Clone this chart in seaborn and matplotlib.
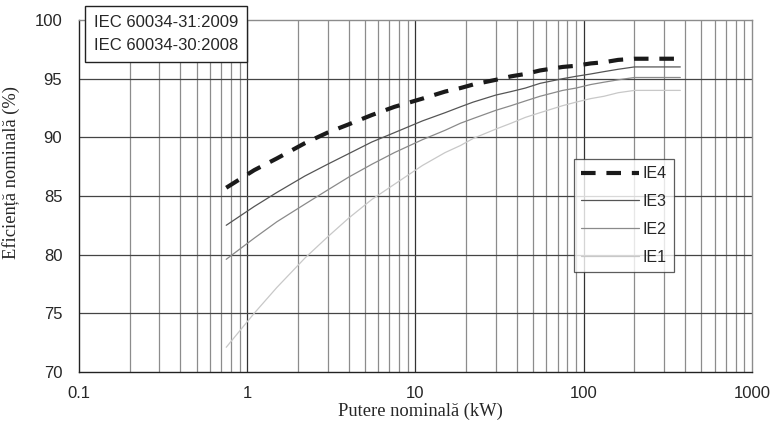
import numpy as np
import pandas as pd
import matplotlib
matplotlib.use('Agg')
import matplotlib.pyplot as plt
import seaborn as sns
from matplotlib.ticker import FixedLocator, MultipleLocator, NullFormatter

# puteri nominale (kW)
putere = [0.75, 1.1, 1.5, 2.2, 3, 4, 5.5, 7.5, 11, 15, 18.5, 22, 30, 37, 45,
          55, 75, 90, 110, 132, 160, 200, 250, 315, 355, 375]

ie4 = [85.7, 87.2, 88.2, 89.5, 90.4, 91.1, 91.9, 92.6, 93.3, 93.9, 94.2, 94.5, 94.9, 95.2, 95.4,
       95.7, 96.0, 96.1, 96.3, 96.4, 96.6, 96.7, 96.7, 96.7, 96.7, 96.7]
ie3 = [82.5, 84.1, 85.3, 86.7, 87.7, 88.6, 89.6, 90.4, 91.4, 92.1, 92.6, 93.0, 93.6, 93.9, 94.2,
       94.6, 95.0, 95.2, 95.4, 95.6, 95.8, 96.0, 96.0, 96.0, 96.0, 96.0]
ie2 = [79.6, 81.4, 82.8, 84.3, 85.5, 86.6, 87.7, 88.7, 89.8, 90.6, 91.2, 91.6, 92.3, 92.7, 93.1,
       93.5, 94.0, 94.2, 94.5, 94.7, 94.9, 95.1, 95.1, 95.1, 95.1, 95.1]
ie1 = [72.1, 75.0, 77.2, 79.7, 81.5, 83.1, 84.7, 86.0, 87.6, 88.7, 89.3, 89.9, 90.7, 91.2, 91.7,
       92.1, 92.7, 93.0, 93.3, 93.5, 93.8, 94.0, 94.0, 94.0, 94.0, 94.0]

x_ticks = [0.1, 1, 10, 100, 1000]
x_tick_labels = ['0.1', '1', '10', '100', '1000']
y_ticks = [70, 75, 80, 85, 90, 95, 100]

clase = ['IE4', 'IE3', 'IE2', 'IE1']
culori = {'IE4': '#1a1a1a', 'IE3': '#555555', 'IE2': '#8a8a8a', 'IE1': '#c8c8c8'}

df = pd.DataFrame({'putere': putere, 'IE4': ie4, 'IE3': ie3, 'IE2': ie2, 'IE1': ie1})
df_long = df.melt(id_vars='putere', var_name='clasa', value_name='eficienta')

sns.set_style('white')
plt.rcParams['font.family'] = ['Liberation Sans', 'DejaVu Sans']

fig, ax = plt.subplots(figsize=(7.7, 4.26), dpi=100)
fig.subplots_adjust(left=0.1026, right=0.9766, top=0.953, bottom=0.127)

ax.set_xscale('log')
ax.set_xlim(0.1, 1000)
ax.set_ylim(70, 100)

# grila: linii verticale la 2..9 din fiecare decada, orizontale la 5 %
minore = [m * 10.0 ** d for d in range(-1, 3) for m in range(2, 10)]
for xv in minore:
    ax.axvline(xv, color='#8c8c8c', linewidth=0.9, zorder=0)
for xv in x_ticks[1:-1]:
    ax.axvline(xv, color='#333333', linewidth=0.9, zorder=0)
for yv in y_ticks[1:-1]:
    ax.axhline(yv, color='#444444', linewidth=0.9, zorder=0)

sns.lineplot(
    data=df_long,
    x='putere',
    y='eficienta',
    hue='clasa',
    hue_order=clase,
    style='clasa',
    style_order=clase,
    dashes={'IE4': (3.5, 2.6), 'IE3': '', 'IE2': '', 'IE1': ''},
    size='clasa',
    sizes={'IE4': 3.0, 'IE3': 0.9, 'IE2': 0.9, 'IE1': 0.9},
    palette=culori,
    ax=ax,
    zorder=3,
)

ax.xaxis.set_major_locator(FixedLocator(x_ticks))
ax.set_xticklabels(x_tick_labels)
ax.xaxis.set_minor_formatter(NullFormatter())
ax.set_yticks(y_ticks)
ax.yaxis.set_minor_locator(MultipleLocator(1))
ax.tick_params(axis='x', which='major', length=3, width=0.8, pad=7, labelsize=12, color='#333333')
ax.tick_params(axis='x', which='minor', length=0)
ax.tick_params(axis='y', which='major', direction='out', length=6, width=0.8, pad=6, labelsize=12, color='#333333')
ax.tick_params(axis='y', which='minor', direction='in', length=4, width=0.7, color='#666666')

for lado in ['left', 'bottom']:
    ax.spines[lado].set_color('#222222')
    ax.spines[lado].set_linewidth(1.0)
for lado in ['top', 'right']:
    ax.spines[lado].set_color('#8c8c8c')
    ax.spines[lado].set_linewidth(1.0)

ax.set_xlabel('Putere nominală (kW)', family=['Liberation Serif', 'DejaVu Serif'], fontsize=13.3)
ax.set_ylabel('Eficiență nominală (%)', family=['Liberation Serif', 'DejaVu Serif'], fontsize=13.3)
ax.xaxis.set_label_coords(0.507, -0.088)
ax.yaxis.set_label_coords(-0.088, 0.568)

leg = ax.legend(
    loc='upper left',
    bbox_to_anchor=(0.7355, 0.605),
    frameon=True,
    fancybox=False,
    edgecolor='#333333',
    fontsize=11.5,
    handlelength=3.6,
    handletextpad=0.25,
    labelspacing=0.8,
    borderpad=0.45,
    borderaxespad=0,
)
leg.get_frame().set_linewidth(0.9)

ax.text(
    0.0225, 1.014,
    'IEC 60034-31:2009\nIEC 60034-30:2008',
    transform=ax.transAxes,
    ha='left', va='top',
    fontsize=12,
    linespacing=1.65,
    bbox=dict(boxstyle='square,pad=0.52', facecolor='white', edgecolor='#222222', linewidth=1.0),
    zorder=5,
)

fig.savefig('out.png', dpi=100)
